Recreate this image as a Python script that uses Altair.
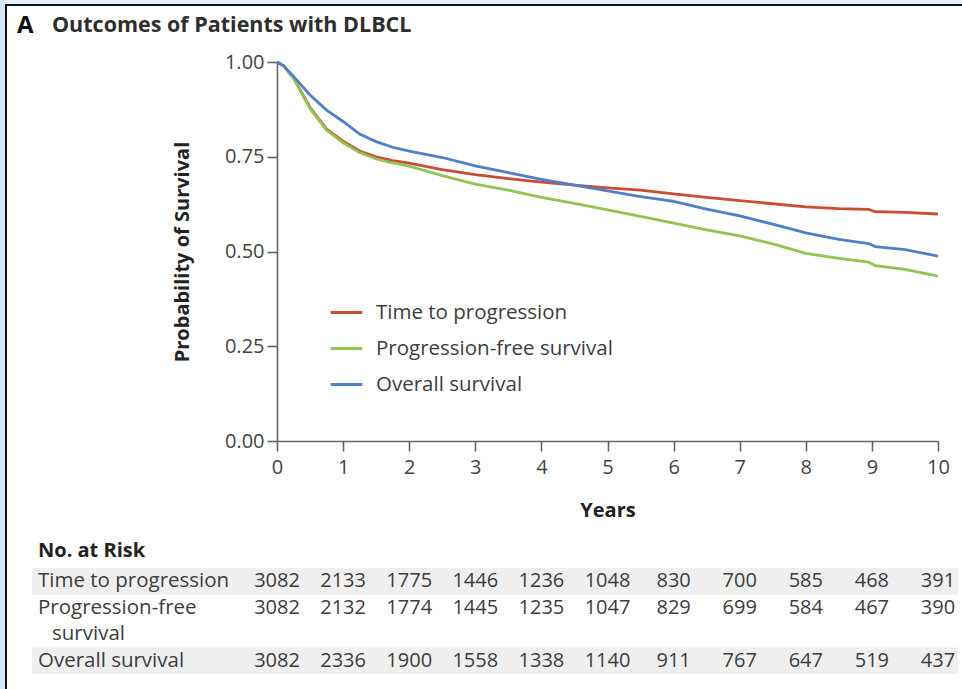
import altair as alt
import pandas as pd

# Kaplan-Meier estimates (years since diagnosis)
years = [0, 0.1, 0.25, 0.5, 0.75, 1, 1.25, 1.5, 1.75, 2, 2.5, 3, 3.5, 4, 4.5,
         5, 5.5, 6, 6.5, 7, 7.5, 8, 8.5, 8.95, 9.05, 9.5, 10]
ttp = [1.0, 0.99, 0.958, 0.88, 0.823, 0.791, 0.765, 0.750, 0.740, 0.733, 0.716,
       0.703, 0.692, 0.683, 0.675, 0.668, 0.662, 0.652, 0.643, 0.634, 0.626,
       0.618, 0.613, 0.611, 0.605, 0.603, 0.599]
pfs = [1.0, 0.99, 0.957, 0.877, 0.820, 0.787, 0.761, 0.744, 0.734, 0.725, 0.700,
       0.678, 0.662, 0.643, 0.627, 0.610, 0.593, 0.575, 0.557, 0.541, 0.520,
       0.495, 0.482, 0.472, 0.463, 0.453, 0.435]
osv = [1.0, 0.99, 0.962, 0.913, 0.873, 0.843, 0.810, 0.790, 0.775, 0.765, 0.748,
       0.726, 0.708, 0.690, 0.675, 0.660, 0.645, 0.632, 0.612, 0.594, 0.572,
       0.549, 0.532, 0.521, 0.513, 0.505, 0.488]

series = ["Time to progression", "Progression-free survival", "Overall survival"]
colors = ["#cc4b33", "#8fc652", "#4f7fca"]

# Number at risk at each whole year
risk_years = list(range(11))
risk_ttp = [3082, 2133, 1775, 1446, 1236, 1048, 830, 700, 585, 468, 391]
risk_pfs = [3082, 2132, 1774, 1445, 1235, 1047, 829, 699, 584, 467, 390]
risk_os = [3082, 2336, 1900, 1558, 1338, 1140, 911, 767, 647, 519, 437]

# Risk-table text lines (the PFS label wraps onto an indented second line)
table_lines = ["Time to progression", "Progression-free", "survival", "Overall survival"]
line_indent = [0, 0, 1, 0]
series_line = [0, 1, 3]
striped_lines = [0, 3]

panel_letter = "A"
panel_title = "Outcomes of Patients with DLBCL"
table_heading = "No. at Risk"

FONT = "Open Sans"
TEXT = "#3d3d3d"

curves = pd.DataFrame(
    [{"year": t, "surv": v, "series": s}
     for s, vals in zip(series, [ttp, pfs, osv])
     for t, v in zip(years, vals)]
)
risk = pd.DataFrame(
    [{"year": t, "n": n, "line": series_line[i]}
     for i, counts in enumerate([risk_ttp, risk_pfs, risk_os])
     for t, n in zip(risk_years, counts)]
)
labels = pd.DataFrame({"line": list(range(len(table_lines))),
                       "label": table_lines, "indent": line_indent})
stripes = pd.DataFrame({"line": striped_lines})

x_scale = alt.Scale(domain=[0, 10], nice=False, zero=False)
table_y = alt.Scale(domain=list(range(len(table_lines))), range=[506, 612],
                    paddingInner=0, paddingOuter=0)

one = pd.DataFrame({"k": [0]})
# Page frame: pale blue margin plus dark rule along the left and top edges
margin = alt.Chart(one).mark_rect(fill="#d3e7f6").encode(
    x=alt.value(-277), x2=alt.value(-272), y=alt.value(-62), y2=alt.value(627))
margin_top = alt.Chart(one).mark_rect(fill="#e8f2fa").encode(
    x=alt.value(-272), x2=alt.value(685), y=alt.value(-62), y2=alt.value(-58))
edge_left = alt.Chart(one).mark_rect(fill="#111111").encode(
    x=alt.value(-272), x2=alt.value(-270), y=alt.value(-58), y2=alt.value(627))
edge_top = alt.Chart(one).mark_rect(fill="#111111").encode(
    x=alt.value(-272), x2=alt.value(685), y=alt.value(-58), y2=alt.value(-56))

# Panel heading: letter plus title
letter = alt.Chart(pd.DataFrame({"t": [panel_letter]})).mark_text(
    font=FONT, fontSize=24, fontWeight="bold", color="#111111",
    align="left", baseline="middle"
).encode(x=alt.value(-260), y=alt.value(-36), text="t:N")
heading_text = alt.Chart(pd.DataFrame({"t": [panel_title]})).mark_text(
    font=FONT, fontSize=21.5, fontWeight="bold", color="#2e2e2e",
    align="left", baseline="middle"
).encode(x=alt.value(-225), y=alt.value(-36), text="t:N")

band = alt.Chart(stripes).mark_rect(fill="#efefef").encode(
    x=alt.value(-245), x2=alt.value(681),
    y=alt.Y("line:O", scale=table_y, axis=None),
)

lines = alt.Chart(curves).mark_line(strokeWidth=2.8, interpolate="linear").encode(
    x=alt.X("year:Q", scale=x_scale,
            axis=alt.Axis(values=list(range(11)), title="Years", format="d")),
    y=alt.Y("surv:Q", scale=alt.Scale(domain=[0, 1], nice=False),
            axis=alt.Axis(values=[0, 0.25, 0.5, 0.75, 1.0], format=".2f",
                          title="Probability of Survival")),
    color=alt.Color("series:N", sort=series,
                    scale=alt.Scale(domain=series, range=colors),
                    legend=alt.Legend(orient="none", legendX=52, legendY=233,
                                      title=None, symbolType="stroke",
                                      symbolSize=1000, symbolStrokeWidth=2.8,
                                      labelFontSize=20.5, labelFont=FONT,
                                      labelColor=TEXT, labelOffset=12,
                                      labelLimit=400, rowPadding=8)),
    detail="series:N",
)

numbers = alt.Chart(risk).mark_text(font=FONT, fontSize=20, color=TEXT,
                                    align="center", baseline="middle").encode(
    x=alt.X("year:Q", scale=x_scale),
    y=alt.Y("line:O", scale=table_y, axis=None),
    text=alt.Text("n:Q", format="d"),
)

row_labels = alt.Chart(labels).transform_filter("datum.indent == 0").mark_text(
    font=FONT, fontSize=20.5, color=TEXT, align="left", baseline="middle"
).encode(
    x=alt.value(-239),
    y=alt.Y("line:O", scale=table_y, axis=None),
    text="label:N",
)
row_labels_cont = alt.Chart(labels).transform_filter("datum.indent == 1").mark_text(
    font=FONT, fontSize=20.5, color=TEXT, align="left", baseline="middle", dx=14
).encode(
    x=alt.value(-239),
    y=alt.Y("line:O", scale=table_y, axis=None),
    text="label:N",
)

heading = alt.Chart(pd.DataFrame({"t": [table_heading]})).mark_text(
    font=FONT, fontSize=20, fontWeight="bold", color="#222222",
    align="left", baseline="middle"
).encode(x=alt.value(-239), y=alt.value(489), text="t:N")

chart = alt.layer(
    margin, margin_top, edge_left, edge_top, letter, heading_text, band, lines,
    numbers, row_labels, row_labels_cont, heading
).resolve_scale(y="independent").properties(
    width=661, height=379,
    autosize=alt.AutoSizeParams(type="none"),
    padding={"left": 277, "top": 62, "right": 24, "bottom": 248},
    background="white",
).configure_view(stroke=None, fill=None).configure_axis(
    grid=False, domainColor="#666666", tickColor="#666666",
    domainWidth=1.6, tickWidth=1.6, tickSize=10,
    labelFont=FONT, labelFontSize=20, labelColor="#444444",
    titleFont=FONT, titleFontSize=20, titleFontWeight="bold", titleColor="#222222",
).configure_axisY(labelPadding=3, titlePadding=32).configure_axisX(
    labelPadding=6, titlePadding=23, labelFlush=False
)

chart.save("out.html", embed_options={"renderer": "svg", "actions": False})
